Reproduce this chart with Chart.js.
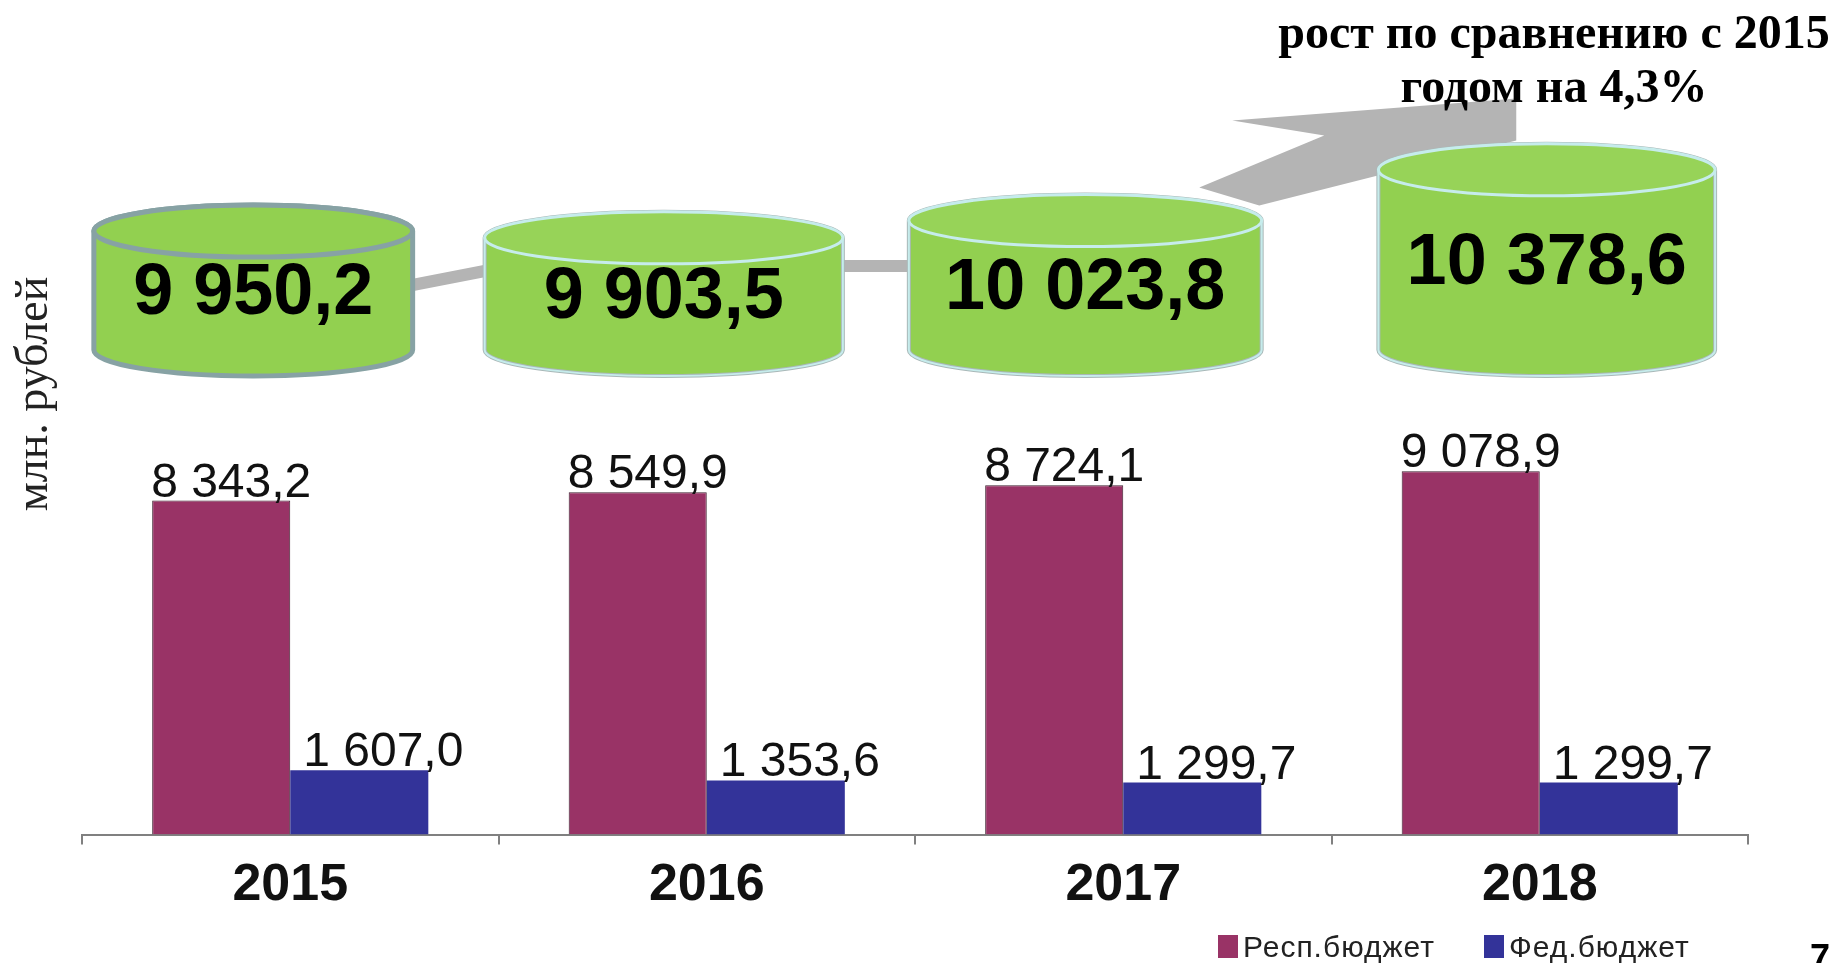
<!DOCTYPE html>
<html>
<head>
<meta charset="utf-8">
<script src="https://cdn.jsdelivr.net/npm/chart.js@4.4.1/dist/chart.umd.min.js"></script>
<style>
  html, body { margin: 0; padding: 0; background: #fff; }
  #wrap { width: 1837px; height: 963px; position: relative; }
</style>
</head>
<body>
<div id="wrap"><canvas id="budget"></canvas></div>
<script>
const years = ["2015", "2016", "2017", "2018"];
const respBudget = [8343.2, 8549.9, 8724.1, 9078.9];
const fedBudget = [1607.0, 1353.6, 1299.7, 1299.7];
const totals = [9950.2, 9903.5, 10023.8, 10378.6];
const seriesNames = ["Респ.бюджет", "Фед.бюджет"];
const growthNote = ["рост по сравнению с 2015", "годом на 4,3%"];
const unitLabel = "млн. рублей";

const RESP = "#993366";
const FED = "#333399";
const GREEN = "#92d050";
const ARROW = "#b4b4b4";
const SANS = "'Liberation Sans', Arial, sans-serif";
const SERIF = "'Liberation Serif', 'Times New Roman', serif";

// drums are a bit off their category centre in the slide
const drumShift = [-37, -43, -38, 7];
const drumScale = [0.89, 1, 0.985, 0.94];

// 9078.9 -> "9 078,9"
function fmt(v) {
  const parts = v.toFixed(1).split(".");
  return parts[0].replace(/\B(?=(\d{3})+(?!\d))/g, " ") + "," + parts[1];
}

function cylinder(ctx, cx, top, w, bottom, ry, first) {
  const l = cx - w / 2, r = cx + w / 2;
  const body = () => {
    ctx.beginPath();
    ctx.moveTo(l, top + ry);
    ctx.lineTo(l, bottom - ry);
    ctx.ellipse(cx, bottom - ry, w / 2, ry, 0, Math.PI, 0, true);
    ctx.lineTo(r, top + ry);
    ctx.ellipse(cx, top + ry, w / 2, ry, 0, 0, Math.PI, true);
    ctx.closePath();
  };
  const cap = () => {
    ctx.beginPath();
    ctx.ellipse(cx, top + ry, w / 2, ry, 0, 0, Math.PI * 2);
  };
  body();
  ctx.fillStyle = GREEN;
  ctx.fill();
  if (first) {
    ctx.strokeStyle = "#87a2a4";
    ctx.lineWidth = 5;
    ctx.stroke();
  } else {
    ctx.strokeStyle = "#a9b8b8";
    ctx.lineWidth = 4;
    ctx.stroke();
    ctx.strokeStyle = "#c6ecec";
    ctx.lineWidth = 2;
    ctx.stroke();
  }
  cap();
  ctx.fillStyle = first ? GREEN : "#97d358";
  ctx.fill();
  if (first) {
    ctx.strokeStyle = "#87a2a4";
    ctx.lineWidth = 5;
    ctx.stroke();
  } else {
    ctx.strokeStyle = "#c6ecec";
    ctx.lineWidth = 3;
    ctx.stroke();
  }
}

const decor = {
  id: "decor",
  afterDatasetsDraw(chart) {
    const ctx = chart.ctx;
    const bottom = 376, ry = 26;
    const pts = chart.getDatasetMeta(2).data.map((el, i) => ({
      x: el.x + drumShift[i], top: el.y, w: el.width * drumScale[i]
    }));

    ctx.save();
    // grey links between the drums
    ctx.strokeStyle = ARROW;
    ctx.lineWidth = 12;
    ctx.beginPath();
    ctx.moveTo(pts[0].x + pts[0].w / 2, bottom - 91);
    ctx.lineTo(pts[1].x - pts[1].w / 2, bottom - 105);
    ctx.moveTo(pts[1].x + pts[1].w / 2, bottom - 110);
    ctx.lineTo(pts[2].x - pts[2].w / 2, bottom - 110);
    ctx.stroke();

    // big arrow going up from 2017
    const p = pts[2];
    ctx.fillStyle = ARROW;
    ctx.beginPath();
    ctx.moveTo(p.x + 114, p.top - 7);
    ctx.lineTo(p.x + 239, p.top - 59);
    ctx.lineTo(p.x + 147, p.top - 74);
    ctx.lineTo(p.x + 431, p.top - 96);
    ctx.lineTo(p.x + 431, p.top - 54);
    ctx.lineTo(p.x + 174, p.top + 11);
    ctx.closePath();
    ctx.fill();

    pts.forEach((q, i) => cylinder(ctx, q.x, q.top, q.w, bottom, ry, i === 0));

    ctx.fillStyle = "#000";
    ctx.textAlign = "center";
    ctx.textBaseline = "middle";
    ctx.font = "bold 72px " + SANS;
    pts.forEach((q, i) => ctx.fillText(fmt(totals[i]), q.x, (q.top + bottom) / 2 + 4));

    // values above the bars
    ctx.textBaseline = "alphabetic";
    ctx.font = "48px " + SANS;
    ctx.fillStyle = "#111";
    [0, 1].forEach(d => {
      const vals = d === 0 ? respBudget : fedBudget;
      chart.getDatasetMeta(d).data.forEach((el, i) => {
        ctx.fillText(fmt(vals[i]), el.x + (d === 0 ? 10 : 24), el.y - 4);
      });
    });
    ctx.restore();
  },
  afterDraw(chart) {
    const ctx = chart.ctx;
    ctx.save();
    ctx.fillStyle = "#000";
    ctx.textAlign = "center";
    ctx.textBaseline = "alphabetic";
    ctx.font = "bold 48px " + SERIF;
    ctx.fillText(growthNote[0], 1554, 48);
    ctx.fillText(growthNote[1], 1554, 102);

    // axis unit, rotated
    ctx.save();
    ctx.translate(35, 394);
    ctx.rotate(-Math.PI / 2);
    ctx.textBaseline = "middle";
    ctx.font = "46px " + SERIF;
    ctx.fillStyle = "#222";
    ctx.fillText(unitLabel, 0, 0);
    ctx.restore();

    // legend
    ctx.textAlign = "left";
    ctx.font = "30px " + SANS;
    ctx.letterSpacing = "1px";
    const items = [{ x: 1218, c: RESP }, { x: 1484, c: FED }];
    items.forEach((it, i) => {
      ctx.fillStyle = it.c;
      ctx.fillRect(it.x, 935, 20, 23);
      ctx.fillStyle = "#222";
      ctx.fillText(seriesNames[i], it.x + 25, 957);
    });
    ctx.letterSpacing = "0px";

    ctx.font = "bold 36px " + SANS;
    ctx.fillStyle = "#000";
    ctx.fillText("7", 1810, 970);
    ctx.restore();
  }
};

new Chart(document.getElementById("budget"), {
  type: "bar",
  data: {
    labels: years,
    datasets: [
      {
        label: seriesNames[0],
        data: respBudget,
        backgroundColor: RESP,
        borderColor: "#3d1f2e",
        borderWidth: 1,
        categoryPercentage: 0.663,
        barPercentage: 1,
        yAxisID: "y"
      },
      {
        label: seriesNames[1],
        data: fedBudget,
        backgroundColor: FED,
        borderWidth: 0,
        categoryPercentage: 0.663,
        barPercentage: 1,
        yAxisID: "y"
      },
      {
        label: "Итого",
        data: totals,
        backgroundColor: "rgba(0,0,0,0)",
        borderWidth: 0,
        grouped: false,
        categoryPercentage: 0.86,
        barPercentage: 1,
        yAxisID: "y2"
      }
    ]
  },
  options: {
    responsive: true,
    maintainAspectRatio: false,
    animation: false,
    layout: { padding: { left: 82, right: 89, top: 110, bottom: 36 } },
    plugins: {
      legend: { display: false },
      tooltip: { enabled: false }
    },
    scales: {
      x: {
        grid: {
          display: true,
          drawOnChartArea: false,
          drawTicks: true,
          tickLength: 10,
          offset: true,
          color: "#808080",
          lineWidth: 2
        },
        border: { display: true, color: "#808080", width: 2 },
        ticks: {
          color: "#111",
          padding: 10,
          font: { family: SANS, size: 52, weight: "bold" }
        }
      },
      y: { display: false, min: 0, max: 18100 },
      y2: { display: false, min: 5549, max: 10615 }
    }
  },
  plugins: [decor]
});
</script>
</body>
</html>
